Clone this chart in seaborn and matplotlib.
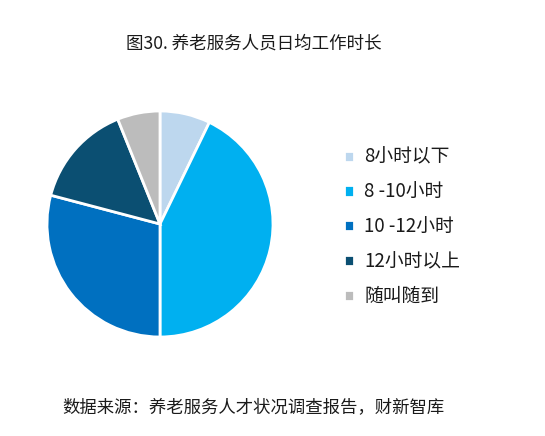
import matplotlib
matplotlib.use("Agg")
import matplotlib.pyplot as plt
import seaborn as sns

categories = ["8小时以下", "8 -10小时", "10 -12小时", "12小时以上", "随叫随到"]
values = [7.2, 42.8, 29.1, 14.8, 6.1]
colors = ["#BDD7EE", "#00B0F0", "#0070C0", "#0B4F72", "#BCBCBC"]
title = "图30. 养老服务人员日均工作时长"
source = "数据来源：养老服务人才状况调查报告，财新智库"

sns.set_theme(style="white")
plt.rcParams["font.family"] = ["Noto Sans CJK SC", "DejaVu Sans"]

fig = plt.figure(figsize=(5.45, 4.36), dpi=100)
fig.patch.set_facecolor("white")

W, H = 545, 436
cx, cy, r = 160, 224, 113
ax = fig.add_axes([(cx - r) / W, 1 - (cy + r) / H, 2 * r / W, 2 * r / H])
wedges, _ = ax.pie(values, colors=sns.color_palette(colors), startangle=90,
                   counterclock=False,
                   wedgeprops=dict(edgecolor="white", linewidth=2))
ax.set_xlim(-1, 1)
ax.set_ylim(-1, 1)
ax.set_aspect("equal")
ax.axis("off")

fs = 13.5
leg = fig.legend(wedges, categories, loc="center left",
                 bbox_to_anchor=(344 / W, 1 - 227 / H),
                 frameon=False, fontsize=fs, borderpad=0, borderaxespad=0,
                 handlelength=0.53, handleheight=0.53, handletextpad=0.55,
                 labelspacing=0.74)
for t in leg.get_texts():
    t.set_color("#1a1a1a")

fig.text(254 / W, 1 - 44 / H, title, ha="center", va="center",
         fontsize=12.6, color="#1a1a1a")
fig.text(62 / W, 1 - 407 / H, source, ha="left", va="center",
         fontsize=12.5, color="#1a1a1a")

fig.savefig("out.png", dpi=100, facecolor="white")
